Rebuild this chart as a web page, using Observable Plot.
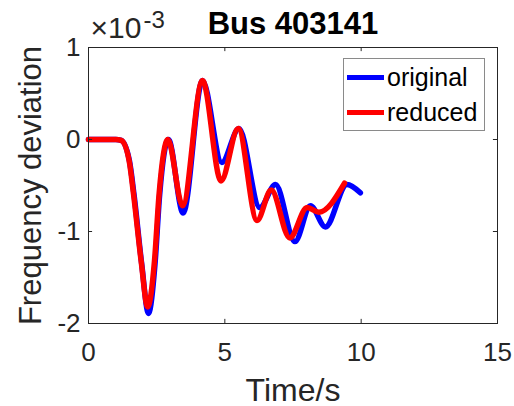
<!DOCTYPE html>
<html>
<head>
<meta charset="utf-8">
<script src="https://cdn.jsdelivr.net/npm/d3@7"></script>
<script src="https://cdn.jsdelivr.net/npm/@observablehq/plot@0.6"></script>
<style>
  html, body { margin: 0; padding: 0; background: #fff; }
  #wrap { position: relative; width: 514px; height: 406px; font-family: "Liberation Sans", Arial, sans-serif; }
  #wrap svg { overflow: visible; }
  #legend { position: absolute; left: 343px; top: 58px; width: 142px; height: 73px; border: 1px solid #8a8a8a; background: #fff; box-sizing: border-box; }
  .item { position: absolute; left: 3px; display: flex; align-items: center; font-size: 25px; color: #000; line-height: 1; }
  .sw { width: 37px; height: 5px; margin-right: 3px; }
</style>
</head>
<body>
<div id="wrap"></div>
<script>
// Data (frequency deviation in units of 1e-3)
const timeOriginal = [0, 0.5, 1.0, 1.2, 1.5, 1.67, 1.95, 2.2, 2.44, 2.61, 2.93, 3.47, 4.18, 4.89, 5.52, 6.28, 6.86, 7.57, 8.14, 8.69, 9.48, 9.97];
const freqOriginal = [0, 0, 0, -0.01, -0.23, -0.6, -1.35, -1.89, -1.35, -0.6, 0.0, -0.80, 0.64, -0.25, 0.12, -0.74, -0.49, -1.11, -0.72, -0.95, -0.49, -0.58];
const timeReduced = [0, 0.5, 1.0, 1.2, 1.49, 1.65, 1.93, 2.17, 2.42, 2.59, 2.91, 3.45, 4.18, 4.86, 5.49, 6.18, 6.70, 7.38, 8.02, 8.45, 9.39];
const freqReduced = [0, 0, 0, -0.01, -0.23, -0.59, -1.32, -1.82, -1.32, -0.59, 0.0, -0.72, 0.64, -0.45, 0.12, -0.88, -0.55, -1.07, -0.74, -0.79, -0.475];
const xTicks = [0, 5, 10, 15];
const yTicks = [-2, -1, 0, 1];
const innerXTicks = [5, 10];
const innerYTicks = [-1, 0];
const seriesNames = ["original", "reduced"];
const seriesColors = ["#0000ff", "#ff0000"];

const original = timeOriginal.map((t, i) => ({t, v: freqOriginal[i]}));
const reduced = timeReduced.map((t, i) => ({t, v: freqReduced[i]}));

const axisColor = "#262626";
const fmt = d => String(d);
const chart = Plot.plot({
  width: 514,
  height: 406,
  marginLeft: 88,
  marginRight: 17,
  marginTop: 47,
  marginBottom: 83,
  style: { fontFamily: "'Liberation Sans', Arial, sans-serif", color: axisColor, background: "transparent", overflow: "visible" },
  x: { domain: [0, 15] },
  y: { domain: [-2, 1] },
  marks: [
    Plot.line(original, {x: "t", y: "v", stroke: seriesColors[0], strokeWidth: 5.5, curve: "monotone-x"}),
    Plot.line(reduced, {x: "t", y: "v", stroke: seriesColors[1], strokeWidth: 5.5, curve: "monotone-x"}),
    Plot.frame({stroke: axisColor, strokeWidth: 1}),
    Plot.ruleX(innerXTicks, {y1: -2, y2: -1.955, stroke: axisColor}),
    Plot.ruleX(innerXTicks, {y1: 1, y2: 0.955, stroke: axisColor}),
    Plot.ruleY(innerYTicks, {x1: 0, x2: 0.15, stroke: axisColor}),
    Plot.ruleY(innerYTicks, {x1: 15, x2: 14.85, stroke: axisColor}),
    Plot.axisX({ticks: xTicks, tickFormat: fmt, tickSize: 0, tickPadding: 19, fontSize: 26, label: null, fill: axisColor}),
    Plot.axisY({ticks: yTicks, tickFormat: fmt, tickSize: 0, tickPadding: 8, fontSize: 26, label: null, fill: axisColor}),
    Plot.text(["Time/s"], {frameAnchor: "bottom", dy: 77, lineAnchor: "bottom", fontSize: 32, fill: axisColor}),
    Plot.text(["Frequency deviation"], {frameAnchor: "left", dx: -57, rotate: -90, textAnchor: "middle", lineAnchor: "middle", fontSize: 31, fill: axisColor}),
    Plot.text(["Bus 403141"], {frameAnchor: "top", dy: -14, lineAnchor: "bottom", fontSize: 31, fontWeight: "bold", fill: "#000"}),
    Plot.text(["\u00d710"], {frameAnchor: "top-left", dx: 2, dy: -10, textAnchor: "start", lineAnchor: "bottom", fontSize: 30, fill: axisColor}),
    Plot.text(["-3"], {frameAnchor: "top-left", dx: 55, dy: -20, textAnchor: "start", lineAnchor: "bottom", fontSize: 24, fill: axisColor})
  ]
});

const wrap = document.getElementById("wrap");
wrap.appendChild(chart);
const legend = document.createElement("div");
legend.id = "legend";
seriesNames.forEach((name, i) => {
  const item = document.createElement("div");
  item.className = "item";
  item.style.top = (i === 0 ? 6 : 41) + "px";
  const sw = document.createElement("span");
  sw.className = "sw";
  sw.style.background = seriesColors[i];
  const label = document.createElement("span");
  label.textContent = name;
  item.appendChild(sw);
  item.appendChild(label);
  legend.appendChild(item);
});
wrap.appendChild(legend);
</script>
</body>
</html>
